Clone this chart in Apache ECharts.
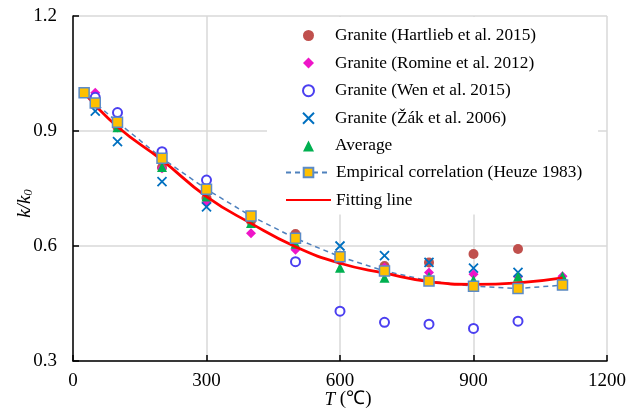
<!DOCTYPE html>
<html>
<head>
<meta charset="utf-8">
<script src="https://cdn.jsdelivr.net/npm/echarts@6/dist/echarts.min.js"></script>
<style>html,body{margin:0;padding:0;background:#fff}#c{width:627px;height:420px}</style>
</head>
<body>
<div id="c"></div>
<script>
const FONT = "'Liberation Serif','Times New Roman',serif";
const xTicks = [0, 300, 600, 900, 1200];
const yTicks = [0.3, 0.6, 0.9, 1.2];

const hartliebT = [25, 100, 200, 300, 400, 500, 600, 700, 800, 900, 1000];
const hartliebK = [1.0, 0.91, 0.805, 0.725, 0.665, 0.631, 0.57, 0.548, 0.557, 0.579, 0.592];

const romineT = [50, 100, 200, 300, 400, 500, 600, 700, 800, 900, 1000, 1100];
const romineK = [1.0, 0.945, 0.803, 0.713, 0.633, 0.59, 0.56, 0.544, 0.531, 0.526, 0.52, 0.521];

const wenT = [50, 100, 200, 300, 500, 600, 700, 800, 900, 1000];
const wenK = [0.988, 0.948, 0.846, 0.772, 0.559, 0.43, 0.401, 0.396, 0.385, 0.404];

const zakT = [50, 100, 200, 300, 600, 700, 800, 900, 1000];
const zakK = [0.952, 0.872, 0.768, 0.702, 0.6, 0.575, 0.557, 0.542, 0.531];

const avgT = [25, 100, 200, 300, 400, 500, 600, 700, 800, 900, 1000, 1100];
const avgK = [1.0, 0.91, 0.806, 0.729, 0.66, 0.606, 0.543, 0.517, 0.52, 0.511, 0.52, 0.521];

const heuzeT = [25, 50, 100, 200, 300, 400, 500, 600, 700, 800, 900, 1000, 1100];
const heuzeK = [1.0, 0.973, 0.923, 0.829, 0.748, 0.678, 0.62, 0.572, 0.535, 0.509, 0.495, 0.489, 0.498];

const fitT = [25, 100, 200, 300, 400, 500, 600, 700, 800, 900, 1000, 1100];
const fitK = [1.0, 0.911, 0.824, 0.729, 0.659, 0.598, 0.555, 0.529, 0.507, 0.5, 0.504, 0.517];

const names = ['Granite (Hartlieb et al. 2015)', 'Granite (Romine et al. 2012)', 'Granite (Wen et al. 2015)',
  'Granite (Žák et al. 2006)', 'Average', 'Empirical correlation (Heuze 1983)', 'Fitting line'];

const zip = (a, b) => a.map((v, i) => [v, b[i]]);

const legendText = {fontFamily: FONT, fontSize: 17.3, color: '#000', lineHeight: 14};

const chart = echarts.init(document.getElementById('c'), null, {renderer: 'canvas'});
chart.setOption({
  animation: false,
  backgroundColor: '#fff',
  grid: {left: 73, right: 20, top: 16, bottom: 59, containLabel: false, outerBoundsMode: 'none'},
  legend: [{
    orient: 'vertical', left: 267, top: 17,
    padding: [10, 62, 5.3, 35],
    backgroundColor: '#fff',
    itemWidth: 11, itemHeight: 11, itemGap: 10.6,
    symbolKeepAspect: true,
    textStyle: Object.assign({padding: [2, 0, 0, 16]}, legendText),
    data: names.slice(0, 5)
  }, {
    orient: 'vertical', left: 267, top: 158.7,
    padding: [5.3, 17, 6, 18],
    backgroundColor: '#fff',
    itemWidth: 45, itemHeight: 12, itemGap: 10.6,
    textStyle: Object.assign({padding: [2, 0, 0, 0]}, legendText),
    data: [names[5], {name: names[6], itemStyle: {opacity: 0}}]
  }],
  xAxis: {
    type: 'value', min: 0, max: 1200, interval: 300,
    name: '{i|T} (℃)', nameLocation: 'middle', nameGap: 29, nameMoveOverlap: false,
    nameTextStyle: {fontFamily: FONT, fontSize: 19, color: '#000', padding: [0, 0, 0, 16],
      rich: {i: {fontFamily: FONT, fontSize: 19, fontStyle: 'italic', color: '#000'}}},
    axisLine: {lineStyle: {color: '#000', width: 1.5}},
    axisTick: {inside: true, length: 6, lineStyle: {color: '#000', width: 1.5}},
    axisLabel: {fontFamily: FONT, fontSize: 19, color: '#000', margin: 11,
      formatter: v => xTicks.includes(v) ? String(v) : ''},
    splitLine: {show: true, lineStyle: {color: '#d9d9d9', width: 1.5}}
  },
  yAxis: {
    type: 'value', min: 0.3, max: 1.2, interval: 0.3,
    name: '{i|k/k}{s|0}', nameLocation: 'middle', nameGap: 38, nameRotate: 90, nameMoveOverlap: false,
    nameTextStyle: {fontFamily: FONT, fontSize: 19, color: '#000', padding: [0, 30, 0, 0],
      rich: {i: {fontFamily: FONT, fontSize: 19, fontStyle: 'italic', color: '#000'},
             s: {fontFamily: FONT, fontSize: 13, fontStyle: 'italic', color: '#000', padding: [8, 0, 0, 0]}}},
    axisLine: {show: true, lineStyle: {color: '#000', width: 1.5}},
    axisTick: {show: true, inside: true, length: 6, lineStyle: {color: '#000', width: 1.5}},
    axisLabel: {fontFamily: FONT, fontSize: 19, color: '#000', margin: 16,
      formatter: v => { const t = yTicks.find(y => Math.abs(y - v) < 1e-6); return t === undefined ? '' : t.toFixed(1); }},
    splitLine: {show: true, lineStyle: {color: '#d9d9d9', width: 1.5}}
  },
  series: [
    {name: names[0], type: 'scatter', symbol: 'circle', symbolSize: 10,
      itemStyle: {color: '#c0504d', opacity: 1}, data: zip(hartliebT, hartliebK)},
    {name: names[1], type: 'scatter', symbol: 'diamond', symbolSize: 10, symbolKeepAspect: true,
      itemStyle: {color: '#ee15c8', opacity: 1}, data: zip(romineT, romineK)},
    {name: names[2], type: 'scatter', symbol: 'emptyCircle', symbolSize: 9,
      itemStyle: {color: '#4b3ff0', borderWidth: 1.5, opacity: 1}, data: zip(wenT, wenK)},
    {name: names[3], type: 'scatter', symbol: 'path://M0,0L10,10M10,0L0,10', symbolSize: 9, symbolKeepAspect: true,
      itemStyle: {color: 'rgba(0,0,0,0)', borderColor: '#0070c0', borderWidth: 1.8, opacity: 1}, data: zip(zakT, zakK)},
    {name: names[4], type: 'scatter', symbol: 'triangle', symbolSize: 10, symbolKeepAspect: true,
      itemStyle: {color: '#00b050', opacity: 1}, data: zip(avgT, avgK)},
    {name: names[5], type: 'line', symbol: 'rect', symbolSize: 10, showSymbol: true,
      itemStyle: {color: '#ffc000', borderColor: '#5b8bc8', borderWidth: 1.5},
      lineStyle: {color: '#4f81bd', width: 1.5, type: [5, 4]},
      data: zip(heuzeT, heuzeK)},
    {name: names[6], type: 'line', smooth: true, symbol: 'none',
      itemStyle: {color: '#ff0000'},
      lineStyle: {color: '#ff0000', width: 2.8},
      data: zip(fitT, fitK)}
  ]
});
</script>
</body>
</html>
